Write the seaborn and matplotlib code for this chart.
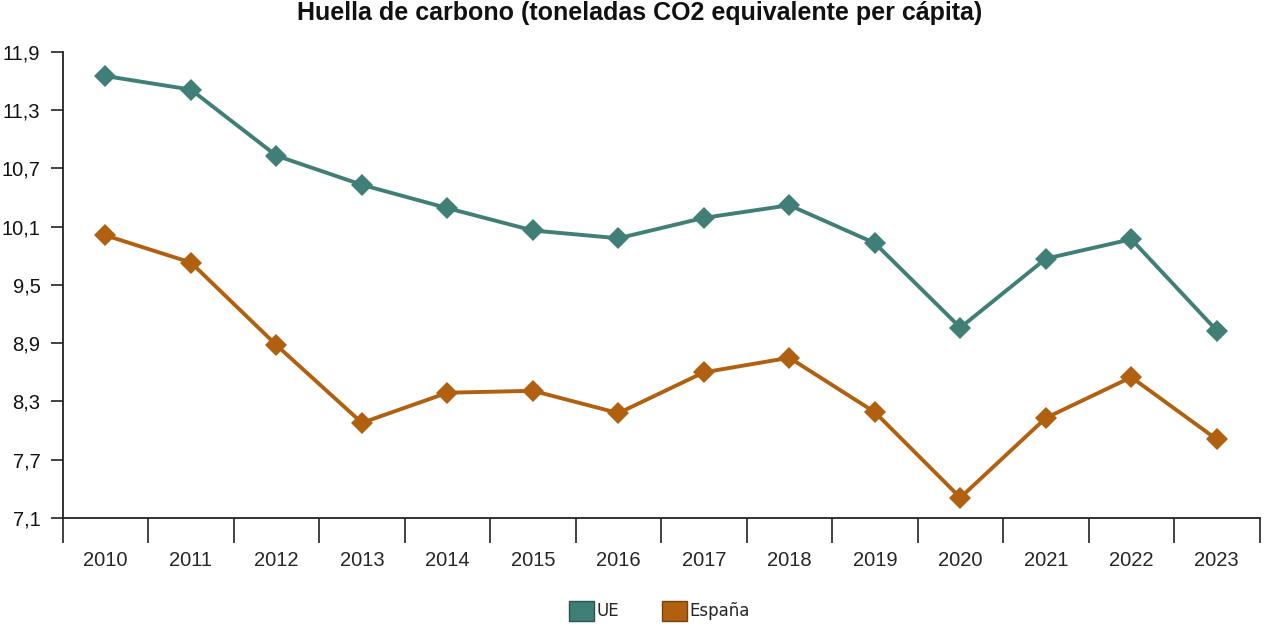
import pandas as pd
import matplotlib.pyplot as plt
import matplotlib.patches as mpatches
from matplotlib.ticker import FixedLocator, NullFormatter
import seaborn as sns

# Datos
anios = ["2010", "2011", "2012", "2013", "2014", "2015", "2016",
         "2017", "2018", "2019", "2020", "2021", "2022", "2023"]
ue = [11.65, 11.51, 10.83, 10.53, 10.29, 10.06, 9.98,
      10.19, 10.32, 9.93, 9.06, 9.77, 9.97, 9.03]
espana = [10.01, 9.73, 8.88, 8.08, 8.39, 8.41, 8.18,
          8.60, 8.75, 8.19, 7.31, 8.13, 8.55, 7.91]
y_ticks = [7.1, 7.7, 8.3, 8.9, 9.5, 10.1, 10.7, 11.3, 11.9]

colores = {"UE": "#3f7f77", "España": "#b0600f"}

df = pd.DataFrame({
    "x": list(range(len(anios))) * 2,
    "valor": ue + espana,
    "serie": ["UE"] * len(anios) + ["España"] * len(anios),
})

sns.set_style("white")
plt.rcParams['font.family'] = ['Liberation Sans', 'DejaVu Sans']

fig = plt.figure(figsize=(12.8, 6.31), dpi=100)
ax = fig.add_axes([0.049, 0.179, 0.935, 0.739])

sns.lineplot(data=df, x="x", y="valor", hue="serie", palette=colores,
             marker="D", markersize=11, markeredgewidth=0, linewidth=2.8,
             legend=False, ax=ax)

ax.set_xlim(-0.5, len(anios) - 0.5)
ax.set_ylim(7.1, 11.9)
ax.set_yticks(y_ticks)
ax.set_yticklabels([f"{v:.1f}".replace(".", ",") for v in y_ticks], fontsize=14.5)

# ticks en los limites de categoria, etiquetas en el centro
ax.xaxis.set_major_locator(FixedLocator([i - 0.5 for i in range(len(anios) + 1)]))
ax.xaxis.set_major_formatter(NullFormatter())
ax.xaxis.set_minor_locator(FixedLocator(list(range(len(anios)))))
ax.set_xticklabels(anios, minor=True, fontsize=14.5)
ax.tick_params(axis="x", which="major", length=18, width=1.2, color="#222222", direction="out", bottom=True)
ax.tick_params(axis="x", which="minor", length=0, pad=24)
ax.tick_params(axis="y", length=9, width=1.2, color="#222222", direction="out", left=True, pad=7)
ax.tick_params(labelcolor="#111111")

for s in ["top", "right"]:
    ax.spines[s].set_visible(False)
for s in ["left", "bottom"]:
    ax.spines[s].set_color("#222222")
    ax.spines[s].set_linewidth(1.3)

ax.set_xlabel("")
ax.set_ylabel("")
fig.suptitle("Huella de carbono (toneladas CO2 equivalente per cápita)",
             fontsize=18, fontweight="bold", y=0.998, color="#111111")

handles = [mpatches.Patch(facecolor=colores[k], edgecolor="#2a5550" if k == "UE" else "#7a420a", label=k)
           for k in ["UE", "España"]]
fig.legend(handles=handles, loc="lower center", bbox_to_anchor=(0.515, -0.008), ncol=2,
           frameon=False, handlelength=1.5, handleheight=1.5,
           handletextpad=0.15, columnspacing=2.6, prop={"family": "DejaVu Sans", "size": 12})

plt.savefig("out.png", dpi=100)
